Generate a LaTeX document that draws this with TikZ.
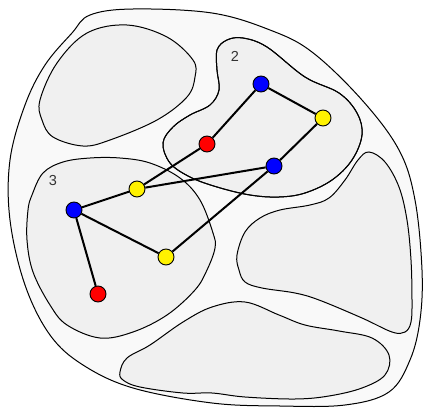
\documentclass[tikz,border=0pt]{standalone}
\usepackage{fontspec}
\setmainfont{Liberation Sans}
\begin{document}
\begin{tikzpicture}[x=1pt,y=-1pt,
  blob/.style={draw=black,line width=1pt,fill=innerfill},
  vtx/.style={circle,draw=black,line width=0.9pt,minimum size=16pt,inner sep=0pt},
  edge/.style={line width=2pt},
  lbl/.style={font=\fontsize{14.5}{14.5}\selectfont,text=black!80}]
\definecolor{outerfill}{HTML}{F9F9F9}
\definecolor{innerfill}{HTML}{F0F0F0}
\useasboundingbox (0,0) rectangle (424,410);
\draw[line width=1pt,fill=outerfill] plot[smooth cycle,tension=0.6] coordinates {(90,15) (133,9) (212,13) (270,30) (312,52) (362,100) (399,150) (415,200) (422,270) (420,320) (410,360) (389,392) (345,405) (280,406) (212,403) (133,388) (83,365) (50,335) (25,285) (10,220) (10,160) (25,105) (45,65) (72,33)};
\draw[blob] plot[smooth cycle,tension=0.6] coordinates {(127,25) (167,37) (193,60) (195,77) (187,97) (157,120) (110,140) (83,146) (53,137) (42,120) (40,100) (57,63) (87,33)};
\draw[blob] plot[smooth cycle,tension=0.6] coordinates {(217,50) (227,40) (243,38) (267,47) (305,77) (339,93) (357,113) (362,135) (352,160) (332,180) (305,193) (279,197) (250,195) (217,187) (190,177) (170,163) (163,143) (173,127) (190,115) (210,105) (219,90) (217,70)};
\draw[blob] plot[smooth cycle,tension=0.6] coordinates {(90,158) (120,158) (150,163) (180,178) (200,200) (213,233) (215,248) (207,270) (195,290) (167,315) (133,332) (100,338) (67,325) (50,305) (33,272) (27,240) (28,210) (32,195) (43,173) (63,162)};
\draw[line width=1pt] plot[smooth cycle,tension=0.6] coordinates {(217,50) (227,40) (243,38) (267,47) (305,77) (339,93) (357,113) (362,135) (352,160) (332,180) (305,193) (279,197) (250,195) (217,187) (190,177) (170,163) (163,143) (173,127) (190,115) (210,105) (219,90) (217,70)};
\draw[blob] plot[smooth cycle,tension=0.6] coordinates {(369,152) (385,162) (399,187) (407,220) (411,260) (412,300) (411,322) (405,332) (392,332) (362,318) (319,300) (295,293) (262,288) (245,282) (239,270) (237,255) (245,232) (260,218) (280,210) (310,205) (329,198) (345,180) (358,160)};
\draw[blob] plot[smooth cycle,tension=0.6] coordinates {(120,372) (127,358) (150,345) (183,322) (212,307) (245,302) (279,315) (305,325) (339,331) (372,338) (389,355) (385,375) (362,388) (329,396) (295,399) (245,397) (212,393) (183,393) (140,387) (123,380)};
\node[lbl] (l2) at (235,56) {2};
\node[lbl] (l3) at (53,181) {3};
\node[vtx,fill=blue] (b1) at (261,84) {};
\node[vtx,fill=yellow] (y1) at (323,118) {};
\node[vtx,fill=red] (r1) at (207,144) {};
\node[vtx,fill=blue] (b2) at (274,166) {};
\node[vtx,fill=yellow] (y2) at (137,189) {};
\node[vtx,fill=blue] (b3) at (74,210) {};
\node[vtx,fill=yellow] (y3) at (166,257) {};
\node[vtx,fill=red] (r2) at (98,294) {};
\draw[edge] (b1) -- (y1);
\draw[edge] (b1) -- (r1);
\draw[edge] (r1) -- (y2);
\draw[edge] (y2) -- (b2);
\draw[edge] (y1) -- (b2);
\draw[edge] (b2) -- (y3);
\draw[edge] (y3) -- (b3);
\draw[edge] (b3) -- (y2);
\draw[edge] (b3) -- (r2);
\end{tikzpicture}
\end{document}
